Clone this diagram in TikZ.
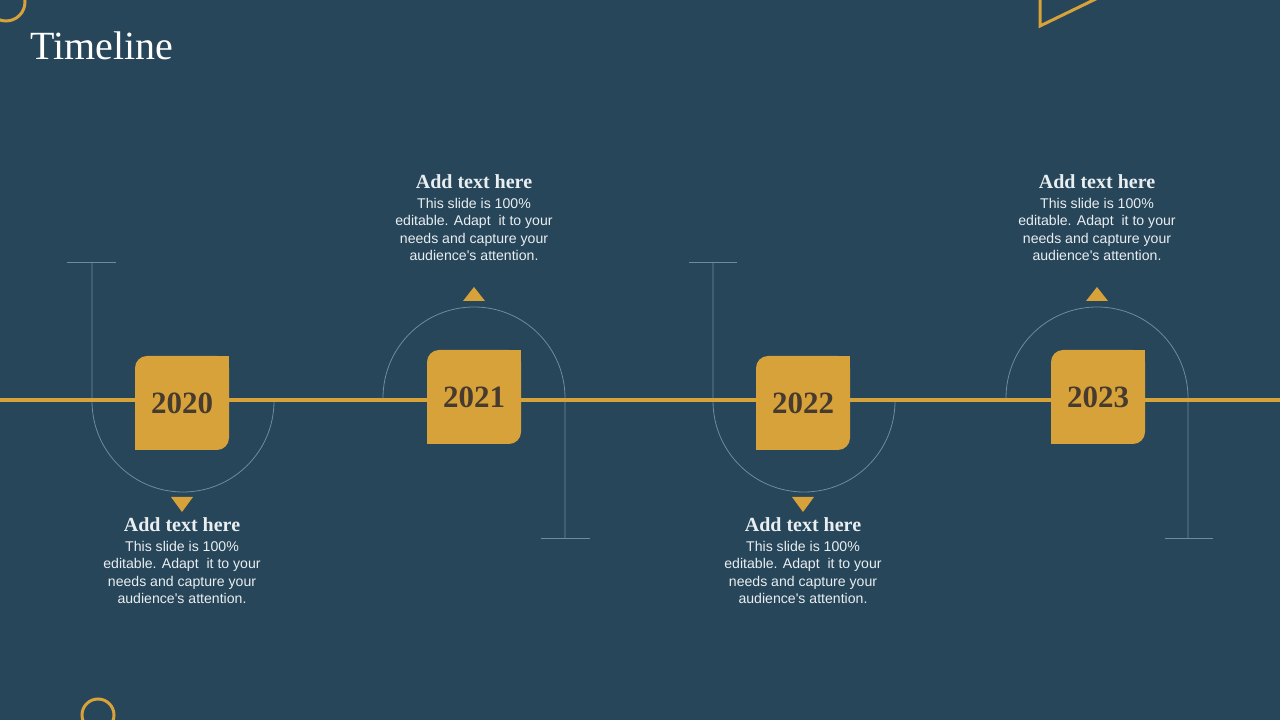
\documentclass[tikz,border=0pt]{standalone}
\usepackage{fontspec}
\setmainfont{Liberation Serif}
\newfontfamily\bodyfont{Liberation Sans}
\definecolor{bg}{HTML}{27465A}
\definecolor{gold}{HTML}{D8A23A}
\definecolor{thin}{HTML}{6F8B9C}
\definecolor{yeartext}{HTML}{463B2E}
\definecolor{txt}{HTML}{E9EEF0}
\tikzset{
  yearbox/.style={fill=gold, rounded corners=12pt, minimum width=94pt, minimum height=94pt, inner sep=0pt, text=yeartext, font=\fontsize{31}{31}\selectfont\bfseries},
  headtext/.style={text=txt, font=\fontsize{20}{22}\selectfont\bfseries, anchor=base, inner sep=0pt},
  bodytext/.style={text=txt, font=\bodyfont\fontsize{14.1}{17.5}\selectfont, align=center, anchor=north, inner sep=0pt},
  thinline/.style={draw=thin, line width=0.8pt},
  goldline/.style={draw=gold, line width=4pt},
  pointer/.style={fill=gold},
  decor/.style={draw=gold, line width=3pt},
}
\begin{document}
\begin{tikzpicture}[x=1pt,y=1pt]
\useasboundingbox (0,0) rectangle (1280,720);
\fill[bg] (0,0) rectangle (1280,720);
\begin{scope}
\clip (0,0) rectangle (1280,720);
\draw[decor] (6,718) circle[radius=19];
\draw[decor] (98,5) circle[radius=16];
\draw[decor] (1040,740) -- (1040,694) -- (1135,740);
\end{scope}

% title
\node[anchor=base west, inner sep=0pt, text=white, font=\fontsize{40}{40}\selectfont] (title) at (30,660) {Timeline};

% thin guide lines
\draw[thinline] (67,458) -- (116,458);
\draw[thinline] (92,458) -- (92,319) arc[start angle=180, end angle=360, radius=91];
\draw[thinline] (383,322) arc[start angle=180, end angle=0, radius=91] -- (565,182);
\draw[thinline] (541,182) -- (590,182);
\draw[thinline] (689,458) -- (737,458);
\draw[thinline] (713,458) -- (713,319) arc[start angle=180, end angle=360, radius=91];
\draw[thinline] (1006,322) arc[start angle=180, end angle=0, radius=91] -- (1188,182);
\draw[thinline] (1165,182) -- (1213,182);

% timeline
\coordinate (L) at (0,320);
\coordinate (R) at (1280,320);
\draw[goldline] (L) -- (R);

% year boxes
\node[yearbox] (b20) at (182,317) {2020};
\node[yearbox] (b21) at (474,323) {2021};
\node[yearbox] (b22) at (803,317) {2022};
\node[yearbox] (b23) at (1098,323) {2023};
\foreach \b in {b20,b21,b22,b23}{
  \fill[gold] (\b.north east) rectangle ++(-14,-14);
  \fill[gold] (\b.south west) rectangle ++(14,14);
}

% pointers
\fill[pointer] (171,223) -- (193,223) -- (182,208) -- cycle;
\fill[pointer] (792,223) -- (814,223) -- (803,208) -- cycle;
\fill[pointer] (463,419) -- (485,419) -- (474,433) -- cycle;
\fill[pointer] (1086,419) -- (1108,419) -- (1097,433) -- cycle;

% texts
\node[headtext] (h20) at (182,188) {Add text here};
\node[bodytext] (t20) at (182,179) {This slide is 100\%\\editable. Adapt\ \ it to your\\needs and capture your\\audience's attention.};
\node[headtext] (h21) at (474,531) {Add text here};
\node[bodytext] (t21) at (474,522) {This slide is 100\%\\editable. Adapt\ \ it to your\\needs and capture your\\audience's attention.};
\node[headtext] (h22) at (803,188) {Add text here};
\node[bodytext] (t22) at (803,179) {This slide is 100\%\\editable. Adapt\ \ it to your\\needs and capture your\\audience's attention.};
\node[headtext] (h23) at (1097,531) {Add text here};
\node[bodytext] (t23) at (1097,522) {This slide is 100\%\\editable. Adapt\ \ it to your\\needs and capture your\\audience's attention.};
\end{tikzpicture}
\end{document}
